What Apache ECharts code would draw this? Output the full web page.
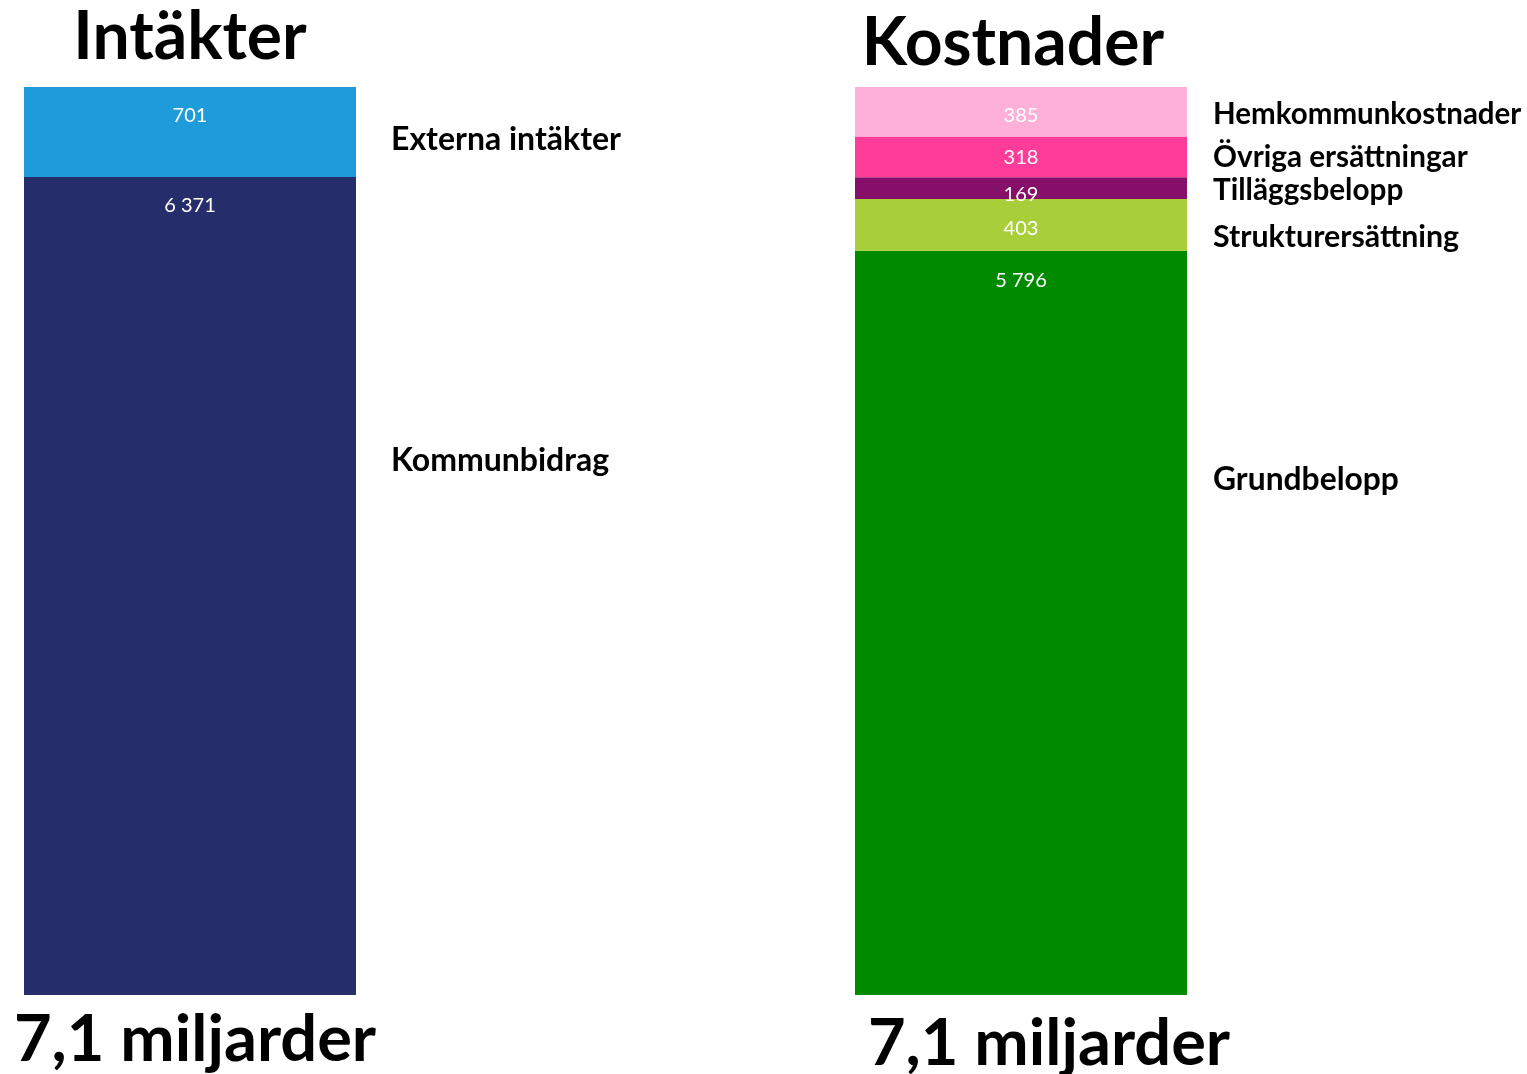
<!DOCTYPE html>
<html>
<head>
<meta charset="utf-8">
<style>
  html, body { margin: 0; padding: 0; background: #ffffff; }
  #chart { width: 1527px; height: 1074px; }
</style>
<script src="https://cdn.jsdelivr.net/npm/echarts@6/dist/echarts.min.js"></script>
</head>
<body>
<div id="chart"></div>
<script>
// ---- Data ----
const incomeNames  = ['Kommunbidrag', 'Externa intäkter'];
const incomeValues = [6371, 701];
const incomeLabels = ['6 371', '701'];
const incomeColors = ['#262D6B', '#1E9CD9'];

const costNames  = ['Grundbelopp', 'Strukturersättning', 'Tilläggsbelopp', 'Övriga ersättningar', 'Hemkommunkostnader'];
const costValues = [5796, 403, 169, 318, 385];
const costLabels = ['5 796', '403', '169', '318', '385'];
const costColors = ['#008A00', '#A8CE3A', '#861069', '#FF3C98', '#FEB0D8'];

const titles = ['Intäkter', 'Kostnader'];
const totals = ['7,1 miljarder', '7,1 miljarder'];

const incomeTotal = incomeValues.reduce((a, b) => a + b, 0);
const costTotal = costValues.reduce((a, b) => a + b, 0);

// label distance from top of segment (small segments get less)
const incomeDist = [19, 19];
const costDist = [20, 20, 7, 11, 19];

const chart = echarts.init(document.getElementById('chart'), null, { renderer: 'canvas' });

function makeSeries(names, values, labels, colors, dists, idx) {
  return names.map((n, i) => ({
    name: n,
    type: 'bar',
    stack: 's' + idx,
    xAxisIndex: idx,
    yAxisIndex: idx,
    barWidth: '100%',
    itemStyle: { color: colors[i] },
    label: {
      show: true,
      position: 'insideTop',
      distance: dists[i],
      formatter: labels[i],
      color: '#ffffff',
      fontFamily: 'Lato',
      fontSize: 20
    },
    emphasis: { disabled: true },
    data: [values[i]]
  }));
}

function font(size) {
  return { fontFamily: 'Lato', fontWeight: 'bold', fontSize: size, fill: '#000' };
}

function txt(text, x, y, f, align) {
  return {
    type: 'text', x: x, y: y,
    style: Object.assign({ text: text, textAlign: align || 'left', textVerticalAlign: 'middle' }, f)
  };
}

const option = {
  animation: false,
  backgroundColor: '#ffffff',
  grid: [
    { left: 24, top: 87, width: 332, height: 908 },
    { left: 855, top: 87, width: 332, height: 908 }
  ],
  xAxis: [
    { type: 'category', gridIndex: 0, data: ['a'], show: false },
    { type: 'category', gridIndex: 1, data: ['b'], show: false }
  ],
  yAxis: [
    { type: 'value', gridIndex: 0, min: 0, max: incomeTotal, show: false },
    { type: 'value', gridIndex: 1, min: 0, max: costTotal, show: false }
  ],
  series: [].concat(
    makeSeries(incomeNames, incomeValues, incomeLabels, incomeColors, incomeDist, 0),
    makeSeries(costNames, costValues, costLabels, costColors, costDist, 1)
  ),
  graphic: [
    txt(titles[0], 190, 38, font(66), 'center'),
    txt(titles[1], 1013, 44, font(66), 'center'),
    txt(totals[0], 195, 1040, font(65), 'center'),
    txt(totals[1], 1049, 1044, font(65), 'center'),
    txt(incomeNames[1], 391, 140, font(32)),
    txt(incomeNames[0], 391, 461, font(32)),
    txt(costNames[4], 1213, 114, font(29.5)),
    txt(costNames[3], 1213, 157, font(29.7)),
    txt(costNames[2], 1213, 190, font(29.7)),
    txt(costNames[1], 1213, 237, font(30.3)),
    txt(costNames[0], 1213, 480, font(31.8))
  ]
};
chart.setOption(option);
</script>
</body>
</html>
